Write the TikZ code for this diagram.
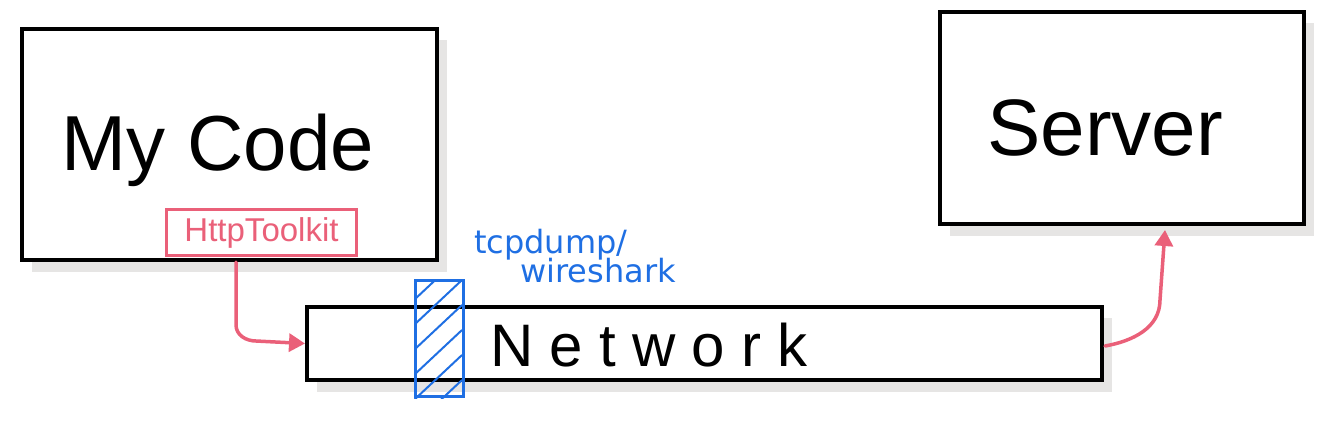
\documentclass[tikz,border=0pt]{standalone}
\usepackage{fontspec}
\setmainfont{Liberation Sans}
\newfontfamily\handb{DejaVu Sans}
\usetikzlibrary{arrows.meta,calc}
\definecolor{pinkc}{HTML}{EA6079}
\definecolor{bluec}{HTML}{1F6FE3}
\definecolor{shad}{HTML}{E6E5E4}
\tikzset{
  bigbox/.style={draw=black,line width=4pt,fill=white,inner sep=0pt},
  pinkline/.style={draw=pinkc,line width=3.5pt,line cap=round,line join=round},
  pinktip/.style={arrows={-Triangle[fill=pinkc,length=16pt,width=18pt]}},
  bluetext/.style={text=bluec,font=\handb\fontsize{32}{34}\selectfont,inner sep=0pt,align=left},
}
\begin{document}
\begin{tikzpicture}[x=1pt,y=-1pt]
\useasboundingbox (0,0) rectangle (1344,424);
% shadows
\fill[shad] (32,40) rectangle (447,272);
\fill[shad] (950,23) rectangle (1314,236);
\fill[shad] (317,318) rectangle (1112,392);
% boxes
\node[bigbox,minimum width=415pt,minimum height=231pt,anchor=north west] (code) at (20,27) {};
\node[bigbox,minimum width=364pt,minimum height=212pt,anchor=north west] (server) at (938,10) {};
\node[bigbox,minimum width=795pt,minimum height=73pt,anchor=north west] (net) at (305,305) {};
% labels
\node[font=\fontsize{78}{80}\selectfont,inner sep=0pt] (codet) at (218,150) {My Code};
\node[font=\fontsize{80}{84}\selectfont,inner sep=0pt] (servt) at (1105,128) {Server};
\node[font=\fontsize{60}{64}\selectfont\addfontfeature{LetterSpace=27},inner sep=0pt,anchor=west] (nett) at (490,345) {Network};
% HttpToolkit
\node[draw=pinkc,line width=3pt,fill=white,minimum width=190pt,minimum height=46pt,anchor=north west,text=pinkc,font=\fontsize{33}{34}\selectfont,inner sep=0pt] (htk) at (165,208) {HttpToolkit};
% capture box
\node[draw=bluec,line width=3pt,minimum width=48pt,minimum height=116pt,anchor=north west,inner sep=0pt] (cap) at (414,279) {};
\begin{scope}
\clip (cap.south west) rectangle (cap.north east);
\foreach \y in {300,325,350,375,400,425}
  \draw[bluec,line width=2pt] (414,\y) -- (462,\y-45);
\end{scope}
\node[bluetext,anchor=west] (tcp) at (474,245) {tcpdump/};
\node[bluetext,anchor=west] (wire) at (520,271) {wireshark};
% arrows
\coordinate (a1) at (236,262);
\draw[pinkline,pinktip] (a1) -- (236,325) to[out=-90,in=180] (256,341) -- (net.west);
\coordinate (a2) at (1105,346);
\coordinate (a3) at (1165,230);
\draw[pinkline,pinktip] (a2) to[out=10,in=-90] (1160,300) -- (a3);
\end{tikzpicture}
\end{document}
